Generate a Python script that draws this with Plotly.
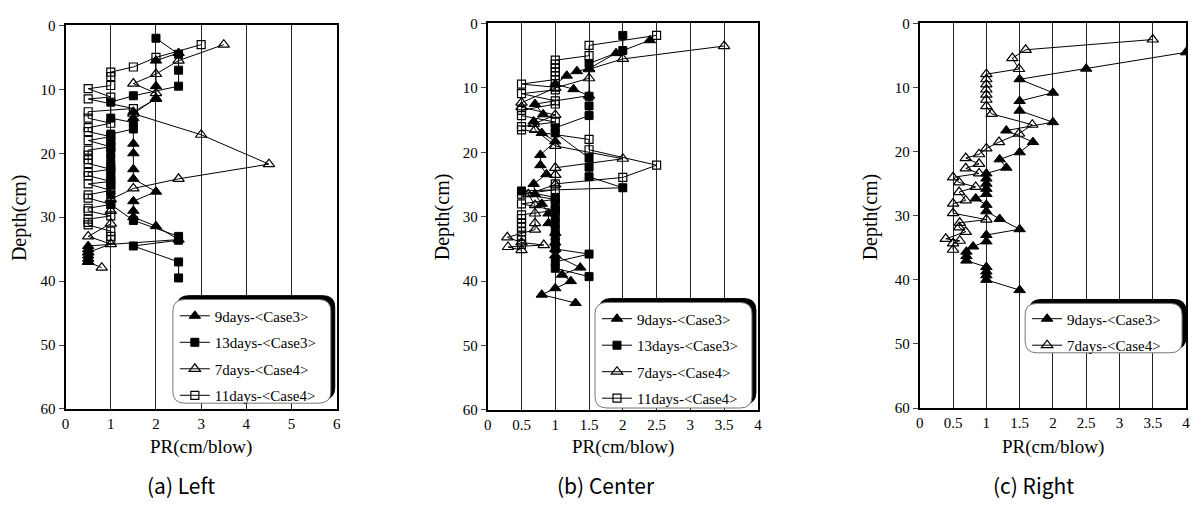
import plotly.graph_objects as go

W, H = 1194, 509

# ---------------- data (PR in cm/blow, depth in cm) ----------------
# Panel (a) Left
a_9d_depth = [4.3, 5.5, 9.5, 11.5, 13.5, 14.5, 18.5, 20, 22.5, 24, 26, 27.5, 29, 30, 31.4, 33.5, 34.5, 35, 35.5, 36, 36.5, 37]
a_9d_pr = [2.5, 2, 2, 2, 1.5, 1.5, 1.5, 1.5, 1.5, 1.5, 2, 1.5, 1.5, 1.5, 2, 2.5, 0.5, 0.5, 0.5, 0.5, 0.5, 0.5]
a_13d_depth = [2, 4.5, 7, 9.5, 11, 12, 14.5, 15.2, 16.2, 17, 18, 19, 20, 21, 22, 23, 24, 25, 26.5, 28, 30.5, 33, 33.6, 34.5, 37, 39.5]
a_13d_pr = [2, 2.5, 2.5, 2.5, 1.5, 1, 1, 1.5, 1.5, 1, 1, 1, 1, 1, 1, 1, 1, 1, 1, 1, 1.5, 2.5, 2.5, 1.5, 2.5, 2.5]
a_7d_depth = [3, 5.5, 7.6, 9.1, 10.6, 11.4, 13.8, 17.1, 21.7, 24, 25.5, 27.2, 29, 31, 33, 34.2, 35.5, 37, 37.9]
a_7d_pr = [3.5, 2.5, 2, 1.5, 2, 2, 1.5, 3, 4.5, 2.5, 1.5, 1, 1, 1, 0.5, 1, 0.5, 0.5, 0.8]
a_11d_depth = [3, 5, 6.5, 7.3, 8, 9.4, 9.9, 11.2, 11.5, 13, 13.5, 14.5, 15.3, 16, 16.6, 17.4, 18, 19, 19.5, 20.3,
               21, 21.6, 22.5, 23, 23.5, 24.4, 24.8, 25.8, 26.5, 27, 28, 28.6, 29, 29.8, 30.3, 30.8, 31.2, 32.2, 33, 33.5]
a_11d_pr = [3, 2, 1.5, 1, 1, 1, 0.5, 1, 0.5, 1.5, 0.5, 0.5, 1, 0.5, 0.5, 1, 0.5, 1, 0.5, 0.5,
            0.5, 0.5, 1, 0.5, 0.5, 1, 0.5, 1, 0.5, 0.5, 1, 0.5, 0.5, 1, 0.5, 0.5, 0.5, 1, 1, 1]

# Panel (b) Center
b_9d_depth = [2.6, 4.6, 7, 7.4, 8.1, 9.4, 10.2, 11.2, 12.5, 14.1, 15.2, 17, 18.3, 20.4, 22, 23.4, 24.9, 26.5, 28,
              29.5, 31, 32.5, 34, 35, 36, 37.9, 39, 40, 41.1, 42.1, 43.4]
b_9d_pr = [2.4, 1.9, 1.5, 1.32, 1.17, 1, 1.27, 1.5, 0.7, 0.82, 0.68, 0.8, 1, 0.78, 0.78, 0.87, 0.68, 0.7, 0.8,
           0.9, 0.9, 1, 1, 1, 1, 1.37, 1.1, 1.23, 1, 0.8, 1.3]
b_13d_depth = [1.85, 4.2, 6.2, 11.3, 12.8, 14.3, 16.2, 17, 20.9, 22.3, 23.8, 25.5, 26, 27, 28, 29, 30, 31, 32,
               33, 34, 35, 35.8, 37, 38, 39.3]
b_13d_pr = [2, 2, 1.5, 1.5, 1.5, 1.5, 1, 1, 1.5, 1.5, 1.5, 2, 0.5, 1, 1, 1, 1, 1, 1,
            1, 1, 1, 1.5, 1, 1, 1.5]
b_7d_depth = [3.5, 5.5, 7.1, 8.5, 10, 12.3, 13, 14.2, 15.6, 16.5, 19, 21, 22.4, 23.5, 25, 26.5, 28.2, 29.5, 31,
              32, 33.2, 34, 34.4, 34.7, 35.2]
b_7d_pr = [3.5, 2, 1.5, 1.5, 1, 0.5, 0.5, 1, 0.68, 0.7, 1, 2, 1, 1, 1, 0.6, 0.7, 0.7, 0.7,
           0.7, 0.29, 0.5, 0.83, 0.3, 0.5]
b_11d_depth = [1.85, 3.4, 5, 5.7, 6.3, 6.9, 7.5, 8.1, 8.7, 9.4, 9.9, 10.3, 10.9, 12, 12.5, 13.5, 14.3, 15.3, 16,
               16.5, 18, 19.6, 22, 23.9, 24.9, 25.8, 26.5, 27.3, 28, 29, 29.7, 30.3, 31, 31.6, 32.3, 33, 33.6, 34.3]
b_11d_pr = [2.5, 1.5, 1.5, 1, 1, 1, 1, 1, 1, 0.5, 1, 1, 0.5, 1, 1, 0.5, 0.5, 1, 0.5,
            0.5, 1.5, 1.5, 2.5, 2, 1, 1, 0.5, 1, 0.5, 1, 0.5, 0.5, 0.5, 0.5, 0.5, 0.5, 0.5, 0.5]

# Panel (c) Right
c_9d_depth = [4.5, 7.05, 8.7, 10.8, 12.1, 13.6, 15.4, 16.7, 18.5, 20.1, 21.2, 22.5, 23.4, 24.2, 25, 25.8, 26.6,
              27.3, 28.3, 29.3, 30.5, 32.1, 33, 34, 34.8, 35.6, 36.3, 37, 38, 38.7, 39.3, 40, 41.6]
c_9d_pr = [4, 2.5, 1.5, 2, 1.5, 1.5, 2, 1.3, 1.7, 1.5, 1.2, 1.3, 1, 1, 1, 1, 1,
           0.84, 1, 1, 1.2, 1.5, 1, 1, 0.8, 0.7, 0.7, 0.7, 1, 1, 1, 1, 1.5]
c_7d_depth = [2.5, 4.1, 5.4, 7.1, 7.9, 8.7, 9.5, 10.3, 11.1, 11.9, 12.9, 14.1, 15.8, 17.2, 18.5, 19.5, 20.4, 21,
              21.9, 22.6, 23.4, 24, 24.8, 25.5, 26.3, 27.6, 28.1, 29.6, 30.6, 31.1, 31.8, 32.5, 33.6, 33.9, 34.3, 35.3]
c_7d_pr = [3.5, 1.59, 1.39, 1.49, 1, 1, 1, 1, 1, 1, 1, 1.08, 1.69, 1.49, 1.19, 1, 0.89, 0.69,
           0.89, 0.69, 0.89, 0.5, 0.59, 0.84, 0.59, 0.69, 0.5, 0.5, 1, 0.6, 0.59, 0.69, 0.39, 0.6, 0.5, 0.5]

names = {"9d": "9days-<Case3>", "13d": "13days-<Case3>", "7d": "7days-<Case4>", "11d": "11days-<Case4>"}
a_xticks = [0, 1, 2, 3, 4, 5, 6]
bc_xticks = [0, 0.5, 1, 1.5, 2, 2.5, 3, 3.5, 4]
yticks = [0, 10, 20, 30, 40, 50, 60]
captions = ["(a) Left", "(b) Center", "(c) Right"]

# ---------------- styling ----------------
SERIF = "Liberation Serif"
styles = {
    "9d": dict(symbol="triangle-up", size=10, color="black", line=dict(color="black", width=1)),
    "13d": dict(symbol="square", size=8, color="black", line=dict(color="black", width=1)),
    "7d": dict(symbol="triangle-up-open", size=10, color="black", line=dict(color="black", width=1.2)),
    "11d": dict(symbol="square-open", size=8, color="black", line=dict(color="black", width=1.2)),
}

fig = go.Figure()

def add(key, pr, depth, ax, leg):
    fig.add_trace(go.Scatter(
        x=pr, y=depth, mode="lines+markers", name=names[key],
        line=dict(color="black", width=1),
        marker=styles[key],
        xaxis="x" + ax, yaxis="y" + ax, legend=leg, legendgroup=leg + key,
    ))

add("9d", a_9d_pr, a_9d_depth, "", "legend")
add("13d", a_13d_pr, a_13d_depth, "", "legend")
add("7d", a_7d_pr, a_7d_depth, "", "legend")
add("11d", a_11d_pr, a_11d_depth, "", "legend")
add("9d", b_9d_pr, b_9d_depth, "2", "legend2")
add("13d", b_13d_pr, b_13d_depth, "2", "legend2")
add("7d", b_7d_pr, b_7d_depth, "2", "legend2")
add("11d", b_11d_pr, b_11d_depth, "2", "legend2")
add("9d", c_9d_pr, c_9d_depth, "3", "legend3")
add("7d", c_7d_pr, c_7d_depth, "3", "legend3")

# plot areas in pixels
areas = [(62, 335, 18, 414), (487, 759, 16, 415), (922, 1190, 16, 413)]
PX = lambda px: px / W
PY = lambda py: 1 - py / H

layout = dict(width=W, height=H, margin=dict(l=0, r=0, t=0, b=0), autosize=False,
              paper_bgcolor="white", plot_bgcolor="white",
              font=dict(family=SERIF, size=14, color="black"))

for i, (x0, x1, y0, y1) in enumerate(areas):
    s = "" if i == 0 else str(i + 1)
    ticks = a_xticks if i == 0 else bc_xticks
    layout["xaxis" + s] = dict(
        domain=[PX(x0), PX(x1)], range=[0, ticks[-1]], tickvals=ticks,
        ticktext=[("%g" % t) for t in ticks], showgrid=True, gridcolor="#222", gridwidth=1,
        showline=True, linecolor="black", linewidth=2, mirror=True, ticks="",
        zeroline=False, anchor="y" + s, tickfont=dict(family=SERIF, size=15),
    )
    layout["yaxis" + s] = dict(
        domain=[PY(y1), PY(y0)], range=[60, 0], tickvals=yticks, showgrid=False,
        showline=True, linecolor="black", linewidth=2, mirror=True, ticks="outside",
        ticklen=5, tickwidth=1, zeroline=False, anchor="x" + s,
        tickfont=dict(family=SERIF, size=15),
    )

# legends
leg_common = dict(bgcolor="rgba(0,0,0,0)", borderwidth=0, xanchor="left", yanchor="top",
                  font=dict(family=SERIF, size=15, color="black"), tracegroupgap=4,
                  traceorder="grouped", itemclick=False, itemdoubleclick=False)
layout["legend"] = dict(leg_common, x=PX(172), y=PY(301))
layout["legend2"] = dict(leg_common, x=PX(597), y=PY(304))
layout["legend3"] = dict(leg_common, x=PX(1030), y=PY(304))

def rrect(x0, y0, x1, y1, r=12):
    pts = [("M", x0 + r, y0), ("L", x1 - r, y0), ("Q", x1, y0, x1, y0 + r), ("L", x1, y1 - r),
           ("Q", x1, y1, x1 - r, y1), ("L", x0 + r, y1), ("Q", x0, y1, x0, y1 - r), ("L", x0, y0 + r),
           ("Q", x0, y0, x0 + r, y0)]
    out = []
    for p in pts:
        cmd = p[0]
        coords = p[1:]
        cs = []
        for j in range(0, len(coords), 2):
            cs.append("%.5f,%.5f" % (PX(coords[j]), PY(coords[j + 1])))
        out.append(cmd + " " + " ".join(cs))
    return " ".join(out) + " Z"

shapes = []
boxes = [(170, 301, 329, 408), (595, 304, 753, 413), (1028, 305, 1186, 356)]
for (bx0, by0, bx1, by1) in boxes:
    shapes.append(dict(type="path", xref="paper", yref="paper", path=rrect(bx0 + 4, by0 - 4, bx1 + 4, by1 - 4),
                       fillcolor="black", line=dict(color="black", width=1), layer="above"))
    shapes.append(dict(type="path", xref="paper", yref="paper", path=rrect(bx0, by0, bx1, by1),
                       fillcolor="white", line=dict(color="#777", width=1), layer="above"))
layout["shapes"] = shapes

ann = []
title_x = [198, 623, 1056]
ytitle_x = [15, 441, 872]
cap_x = [178, 606, 1036]
for i in range(3):
    ann.append(dict(text="PR(cm/blow)", x=PX(title_x[i]), y=PY(453), xref="paper", yref="paper",
                    showarrow=False, xanchor="center", yanchor="middle",
                    font=dict(family=SERIF, size=19, color="black")))
    ann.append(dict(text="Depth(cm)", x=PX(ytitle_x[i]), y=PY(216), xref="paper", yref="paper",
                    showarrow=False, xanchor="center", yanchor="middle", textangle=-90,
                    font=dict(family=SERIF, size=20, color="black")))
    ann.append(dict(text=captions[i], x=PX(cap_x[i]), y=PY(492), xref="paper", yref="paper",
                    showarrow=False, xanchor="center", yanchor="middle",
                    font=dict(family="Noto Sans CJK KR", size=21, color="black")))
layout["annotations"] = ann

fig.update_layout(**layout)
fig.write_html("out.html")
